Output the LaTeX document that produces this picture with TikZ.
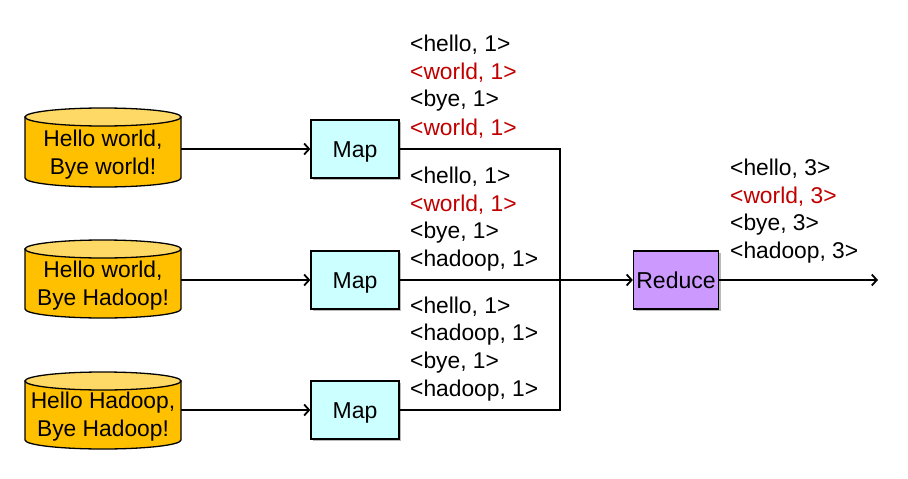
\documentclass[tikz,border=0pt]{standalone}
\usepackage{fontspec}
\setmainfont{Liberation Sans}
\usetikzlibrary{arrows.meta,shadows}
\definecolor{kred}{HTML}{C00000}
\definecolor{cylbody}{HTML}{FFC000}
\definecolor{cyltop}{HTML}{FFD966}
\definecolor{mapfill}{HTML}{CCFFFF}
\definecolor{redfill}{HTML}{CC99FF}
\newcommand{\boxtext}[1]{\raisebox{-8pt}[0pt][0pt]{#1}}
\tikzset{
  txt/.style={font=\fontsize{22.8}{28}\selectfont, inner sep=0pt},
  lbl/.style={txt, anchor=west},
  rlbl/.style={lbl, text=kred},
  procbox/.style={draw=black, line width=1.3pt, minimum width=88pt, minimum height=58pt, inner sep=0pt,
    font=\fontsize{23}{27}\selectfont,
    drop shadow={shadow xshift=2pt, shadow yshift=-2pt, fill=black!45, opacity=0.6}},
  conn/.style={line width=2.4pt},
  arr/.style={conn, -{Straight Barb[length=5pt,width=11pt,line width=1.8pt]}},
  cylline/.style={line width=1.3pt}
}
\newcommand{\mycyl}[2]{%
  % #1 top-center y, #2 bottom-center y
  \filldraw[cylline, fill=cylbody] (25,#1) -- (25,#2) arc[start angle=180, end angle=360, x radius=78pt, y radius=9pt] -- (181,#1) -- cycle;
  \filldraw[cylline, fill=cyltop] (103,#1) ellipse [x radius=78pt, y radius=9pt];
}
\begin{document}
\begin{tikzpicture}[x=1pt,y=-1pt]
\useasboundingbox (0,0) rectangle (908,479);
\fill[white] (0,0) rectangle (908,479);

% cylinders
\mycyl{117}{178}
\mycyl{249}{309}
\mycyl{381}{440}
\node[txt, align=center] (c1) at (103,155) {Hello world,\\Bye world!};
\node[txt, align=center] (c2) at (103,286) {Hello world,\\Bye Hadoop!};
\node[txt, align=center] (c3) at (103,417) {Hello Hadoop,\\Bye Hadoop!};
\coordinate (c1e) at (181,149);
\coordinate (c2e) at (181,280);
\coordinate (c3e) at (181,410);

% map boxes
\node[procbox, fill=mapfill] (m1) at (355,149) {\boxtext{Map}};
\node[procbox, fill=mapfill] (m2) at (355,280) {\boxtext{Map}};
\node[procbox, fill=mapfill] (m3) at (355,410) {\boxtext{Map}};

% reduce
\node[procbox, fill=redfill, minimum width=85pt] (r) at (676,280) {\boxtext{Reduce}};
\coordinate (out) at (878,280);
\coordinate (j1) at (560,149);
\coordinate (j3) at (560,410);

% connectors
\draw[arr] (c1e) -- (m1.west);
\draw[arr] (c2e) -- (m2.west);
\draw[arr] (c3e) -- (m3.west);
\draw[conn] (m1.east) -- (j1) -- (j3) -- (m3.east);
\draw[arr] (m2.east) -- (r.west);
\draw[arr] (r.east) -- (out);

% labels
\node[lbl]  (a1) at (410,45)  {<hello, 1>};
\node[rlbl] (a2) at (410,73)  {<world, 1>};
\node[lbl]  (a3) at (410,101) {<bye, 1>};
\node[rlbl] (a4) at (410,129) {<world, 1>};

\node[lbl]  (b1) at (410,177) {<hello, 1>};
\node[rlbl] (b2) at (410,205) {<world, 1>};
\node[lbl]  (b3) at (410,233) {<bye, 1>};
\node[lbl]  (b4) at (410,261) {<hadoop, 1>};

\node[lbl]  (d1) at (410,307) {<hello, 1>};
\node[lbl]  (d2) at (410,335) {<hadoop, 1>};
\node[lbl]  (d3) at (410,363) {<bye, 1>};
\node[lbl]  (d4) at (410,391) {<hadoop, 1>};

\node[lbl]  (e1) at (730,169) {<hello, 3>};
\node[rlbl] (e2) at (730,197) {<world, 3>};
\node[lbl]  (e3) at (730,225) {<bye, 3>};
\node[lbl]  (e4) at (730,253) {<hadoop, 3>};
\end{tikzpicture}
\end{document}
